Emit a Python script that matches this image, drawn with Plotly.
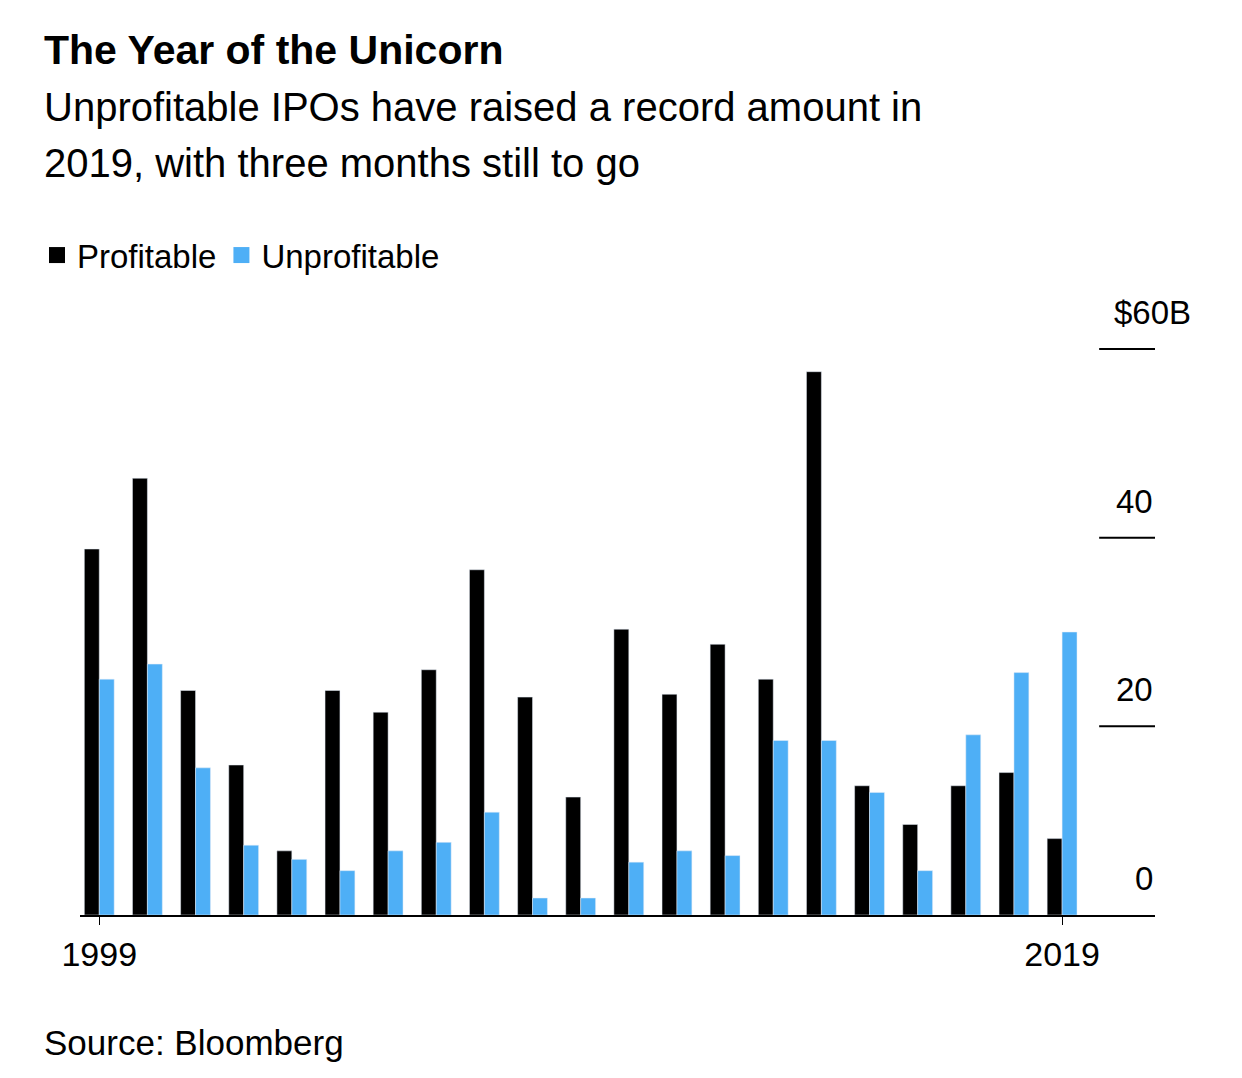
import plotly.graph_objects as go

# IPO proceeds by year ($B)
years = list(range(1999, 2020))
profitable = [38.8, 46.3, 23.8, 15.9, 6.8, 23.8, 21.5, 26.0, 36.6, 23.1, 12.5,
              30.3, 23.4, 28.7, 25.0, 57.6, 13.7, 9.6, 13.7, 15.1, 8.1]
unprofitable = [25.0, 26.6, 15.6, 7.4, 5.9, 4.7, 6.8, 7.7, 10.9, 1.8, 1.8,
                5.6, 6.8, 6.3, 18.5, 18.5, 13.0, 4.7, 19.1, 25.7, 30.0]
colors = {'Profitable': '#000000', 'Unprofitable': '#4eaff6'}

font_family = 'Liberation Sans, Arial, sans-serif'

fig = go.Figure()

fig.add_trace(go.Bar(x=years, y=profitable, name='Profitable', marker_color=colors['Profitable'], showlegend=False))
fig.add_trace(go.Bar(x=years, y=unprofitable, name='Unprofitable', marker_color=colors['Unprofitable'], showlegend=False))

# åœ–ä¾‹ç”¨çš„æ–¹å¡Š (Dummy traces)
for name, c in colors.items():
    fig.add_trace(go.Scatter(x=[None], y=[None], mode='markers', name=name,
                             marker=dict(symbol='square', size=26, color=c)))

# å³å´ç°¡çŸ­åˆ»åº¦ç·šåŠæ¨™ç±¤
for val, label in [(0, '0'), (20, '20'), (40, '40'), (60, '$60B')]:
    if val > 0:
        fig.add_shape(type='line', xref='x', yref='y', x0=2019.77, x1=2020.93, y0=val, y1=val,
                      line=dict(color='black', width=2))
    fig.add_annotation(x=2020.93, y=val, xref='x', yref='y', text=label, showarrow=False,
                       xanchor='right', yanchor='bottom', yshift=16, xshift=38 if val == 60 else 0,
                       font=dict(size=33, family=font_family, color='black'))

fig.add_annotation(text='<b>The Year of the Unicorn</b>', xref='paper', yref='paper', x=-0.035, y=1.407,
                   showarrow=False, xanchor='left', yanchor='middle', align='left',
                   font=dict(size=41, family=font_family, color='black'))
fig.add_annotation(text='Unprofitable IPOs have raised a record amount in',
                   xref='paper', yref='paper', x=-0.035, y=1.314, showarrow=False,
                   xanchor='left', yanchor='middle', align='left',
                   font=dict(size=40, family=font_family, color='black'))
fig.add_annotation(text='2019, with three months still to go',
                   xref='paper', yref='paper', x=-0.035, y=1.223, showarrow=False,
                   xanchor='left', yanchor='middle', align='left',
                   font=dict(size=40, family=font_family, color='black'))
fig.add_annotation(text='Source: Bloomberg', xref='paper', yref='paper', x=-0.035, y=-0.208,
                   showarrow=False, xanchor='left', yanchor='middle', align='left',
                   font=dict(size=35, family=font_family, color='black'))

fig.update_layout(
    width=1242, height=1078,
    barmode='group', bargap=0.38, bargroupgap=0,
    plot_bgcolor='white', paper_bgcolor='white',
    margin=dict(l=72, r=95, t=292, b=171),
    showlegend=True,
    legend=dict(orientation='h', x=-0.04, y=1.073, xanchor='left', yanchor='middle',
                font=dict(size=33, family=font_family, color='black'), itemwidth=30),
    xaxis=dict(range=[1998.6, 2020.93], tickvals=[1999, 2019], ticktext=['1999', '2019'],
               ticks='outside', ticklen=8, tickcolor='black', showgrid=False,
               showline=True, linecolor='black', linewidth=2,
               tickfont=dict(size=34, family=font_family, color='black')),
    yaxis=dict(range=[0, 65.2], showgrid=False, showticklabels=False, zeroline=False),
)

fig.write_html('out.html')
